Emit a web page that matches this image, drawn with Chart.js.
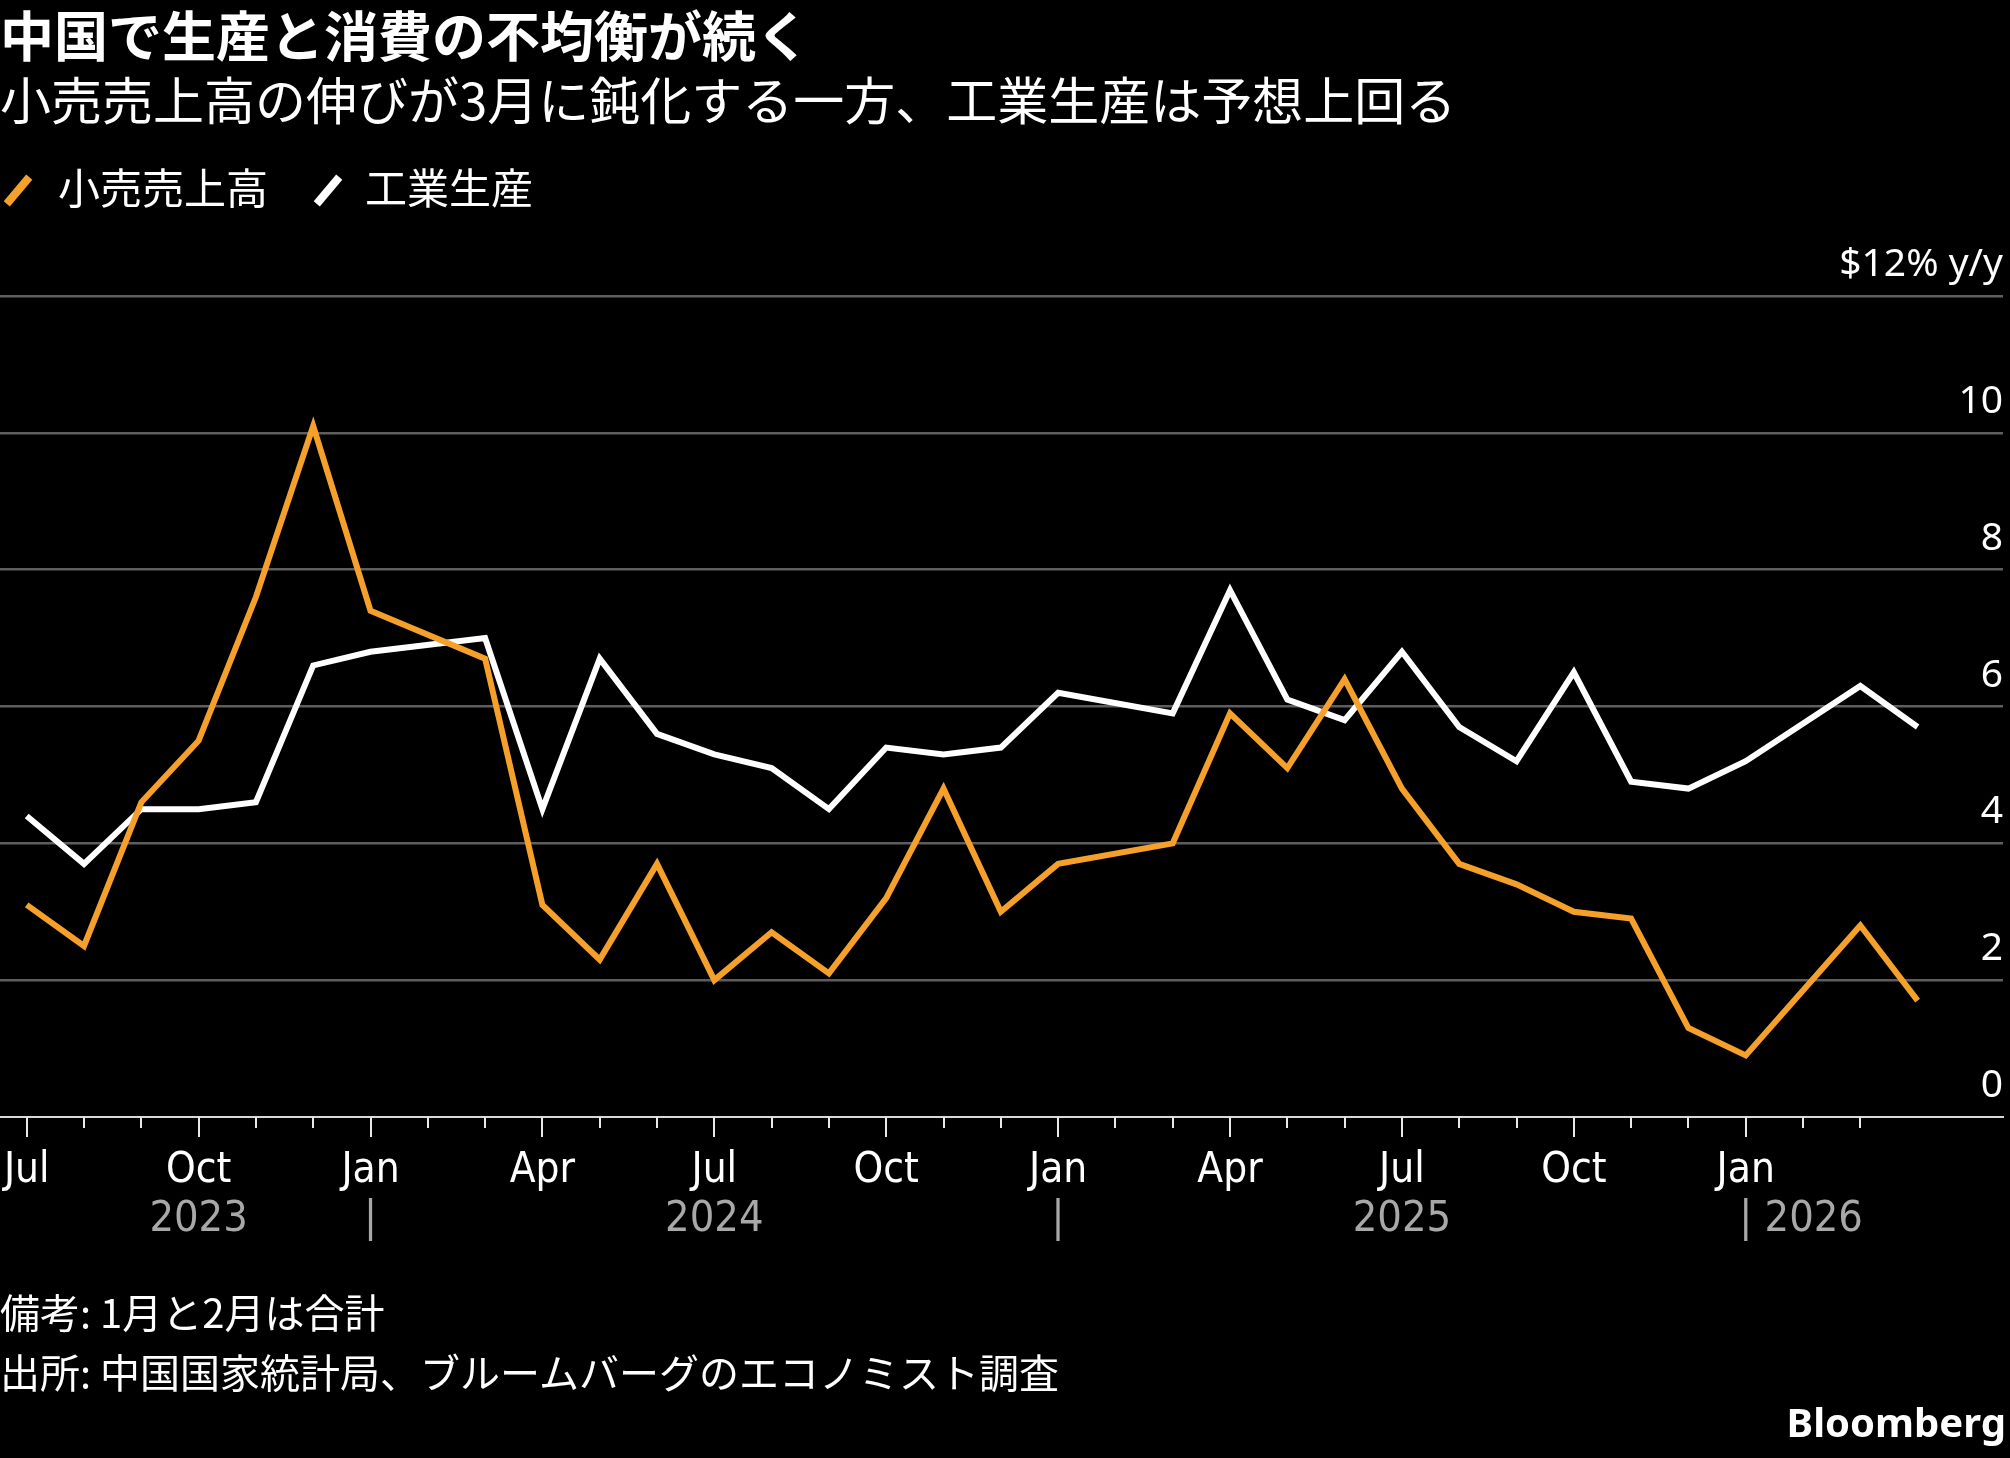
<!DOCTYPE html>
<html lang="ja">
<head>
<meta charset="utf-8">
<script src="https://cdn.jsdelivr.net/npm/chart.js@4.4.1/dist/chart.umd.min.js"></script>
<style>
  html, body { margin: 0; padding: 0; background: #000; }
  body { width: 2010px; height: 1458px; position: relative; overflow: hidden; color: #fff;
         font-family: "Noto Sans CJK JP", "Noto Sans", sans-serif; }
  #chart { position: absolute; left: 0; top: 0; }
  .txt { position: absolute; left: 0; white-space: nowrap; line-height: 1; }
  #title { top: 7px; font-size: 54px; font-weight: bold; }
  #subtitle { top: 73px; font-size: 51px; }
  .leg { position: absolute; top: 165px; font-size: 42px; line-height: 1; white-space: nowrap; }
  .slash { position: absolute; width: 8px; height: 35px; transform: rotate(40deg); }
  #note1 { top: 1291px; font-size: 40px; }
  #note2 { top: 1351px; font-size: 40px; }
  #logo { position: absolute; right: 4px; top: 1402px; font-family: "Noto Sans", sans-serif;
          font-weight: bold; font-size: 40px; line-height: 1; }
</style>
</head>
<body>
<canvas id="chart" width="2010" height="1458"></canvas>
<div class="txt" id="title">中国で生産と消費の不均衡が続く</div>
<div class="txt" id="subtitle">小売売上高の伸びが3月に鈍化する一方、工業生産は予想上回る</div>
<div class="slash" style="left:14px; top:173px; background:#f5a02a;"></div>
<div class="leg" style="left:58px;">小売売上高</div>
<div class="slash" style="left:324px; top:173px; background:#ffffff;"></div>
<div class="leg" style="left:365px;">工業生産</div>
<div class="txt" id="note1">備考: 1月と2月は合計</div>
<div class="txt" id="note2">出所: 中国国家統計局、ブルームバーグのエコノミスト調査</div>
<div id="logo">Bloomberg</div>

<script>
// month of each data point (plotted at month end); January is folded into February
const periods = [
  '2023-06', '2023-07', '2023-08', '2023-09', '2023-10', '2023-11', '2023-12',
  '2024-01', '2024-02', '2024-03', '2024-04', '2024-05', '2024-06',
  '2024-07', '2024-08', '2024-09', '2024-10', '2024-11', '2024-12',
  '2025-01', '2025-02', '2025-03', '2025-04', '2025-05', '2025-06',
  '2025-07', '2025-08', '2025-09', '2025-10', '2025-11', '2025-12',
  '2026-01', '2026-02', '2026-03'
];

// % y/y
const retailSales = [
  3.1, 2.5, 4.6, 5.5, 7.6, 10.1, 7.4, null, 6.7, 3.1, 2.3, 3.7,
  2.0, 2.7, 2.1, 3.2, 4.8, 3.0, 3.7, null, 4.0, 5.9, 5.1,
  6.4, 4.8, 3.7, 3.4, 3.0, 2.9, 1.3, 0.9, null, 2.8, 1.7
];
const industrialOutput = [
  4.4, 3.7, 4.5, 4.5, 4.6, 6.6, 6.8, null, 7.0, 4.5, 6.7, 5.6,
  5.3, 5.1, 4.5, 5.4, 5.3, 5.4, 6.2, null, 5.9, 7.7, 6.1,
  5.8, 6.8, 5.7, 5.2, 6.5, 4.9, 4.8, 5.2, null, 6.3, 5.7
];

// one tick per month start, Jul 2023 .. Mar 2026; a label every quarter
const monthTicks = periods.slice(0, -1).map((p, i) => i);
const xTickLabels = ['Jul', 'Oct', 'Jan', 'Apr', 'Jul', 'Oct', 'Jan', 'Apr', 'Jul', 'Oct', 'Jan'];
const yearLabels = ['2023', '|', '2024', '|', '2025', '| 2026'];
const yearLabelTicks = [3, 6, 12, 18, 24, 30];

const yTicks = [0, 2, 4, 6, 8, 10, 12];
const yTickLabels = ['0', '2', '4', '6', '8', '10', '$12% y/y'];

const axisFont = '"DejaVu Sans Condensed", "Noto Sans", sans-serif';

const extras = {
  id: 'extras',
  afterDraw(chart) {
    const { ctx, chartArea, scales: { x, y } } = chart;
    ctx.save();

    // month ticks, longer on quarters
    ctx.strokeStyle = '#e8e8e8';
    ctx.lineWidth = 2;
    monthTicks.forEach(i => {
      const px = Math.round(x.getPixelForValue(i));
      const len = i % 3 === 0 ? 20 : 11;
      ctx.beginPath();
      ctx.moveTo(px, chartArea.bottom);
      ctx.lineTo(px, chartArea.bottom + len);
      ctx.stroke();
    });

    // value labels sit above their gridline at the right edge
    ctx.fillStyle = '#ffffff';
    ctx.font = '39px "Noto Sans", sans-serif';
    ctx.textAlign = 'right';
    ctx.textBaseline = 'alphabetic';
    yTicks.forEach((v, k) => {
      ctx.fillText(yTickLabels[k], chartArea.right, y.getPixelForValue(v) - 20);
    });

    // year row
    ctx.fillStyle = '#a8a8a8';
    ctx.font = '43px ' + axisFont;
    const yy = chartArea.bottom + 114;
    yearLabels.forEach((t, k) => {
      const px = x.getPixelForValue(yearLabelTicks[k]);
      if (t.length > 1 && t[0] === '|') {
        ctx.textAlign = 'left';
        ctx.fillText(t, px - ctx.measureText('|').width / 2, yy);
      } else {
        ctx.textAlign = 'center';
        ctx.fillText(t, px, yy);
      }
    });
    ctx.restore();
  }
};

new Chart(document.getElementById('chart').getContext('2d'), {
  type: 'line',
  data: {
    datasets: [{
      label: '小売売上高',
      data: retailSales.map((v, i) => ({ x: i, y: v })),
      borderColor: '#f5a02a',
      borderWidth: 6,
      pointRadius: 0,
      spanGaps: true,
      borderJoinStyle: 'miter',
      tension: 0
    }, {
      label: '工業生産',
      data: industrialOutput.map((v, i) => ({ x: i, y: v })),
      borderColor: '#ffffff',
      borderWidth: 6,
      pointRadius: 0,
      spanGaps: true,
      borderJoinStyle: 'miter',
      tension: 0
    }]
  },
  options: {
    responsive: false,
    animation: false,
    layout: { padding: { top: 296, left: 0, right: 7, bottom: 241 } },
    plugins: { legend: { display: false }, tooltip: { enabled: false } },
    scales: {
      x: {
        type: 'linear',
        min: -0.466,
        max: 34.49,
        afterBuildTicks: s => { s.ticks = monthTicks.map(v => ({ value: v })); },
        afterFit: s => { s.height = 100; s.paddingLeft = 0; s.paddingRight = 0; },
        grid: { display: false },
        border: { display: true, color: '#d8d8d8', width: 2 },
        ticks: {
          autoSkip: false,
          maxRotation: 0,
          padding: 21,
          color: '#ffffff',
          font: { family: axisFont, size: 42 },
          callback: v => (v % 3 === 0 ? xTickLabels[v / 3] : '')
        }
      },
      y: {
        position: 'right',
        min: 0,
        max: 12,
        afterFit: s => { s.width = 0; },
        afterBuildTicks: s => { s.ticks = yTicks.map(v => ({ value: v })); },
        ticks: { display: false },
        grid: {
          color: c => (c.tick && c.tick.value === 0 ? 'rgba(0,0,0,0)' : '#5e5e5e'),
          lineWidth: 2.5,
          drawTicks: false
        },
        border: { display: false }
      }
    }
  },
  plugins: [extras]
});
</script>
</body>
</html>
